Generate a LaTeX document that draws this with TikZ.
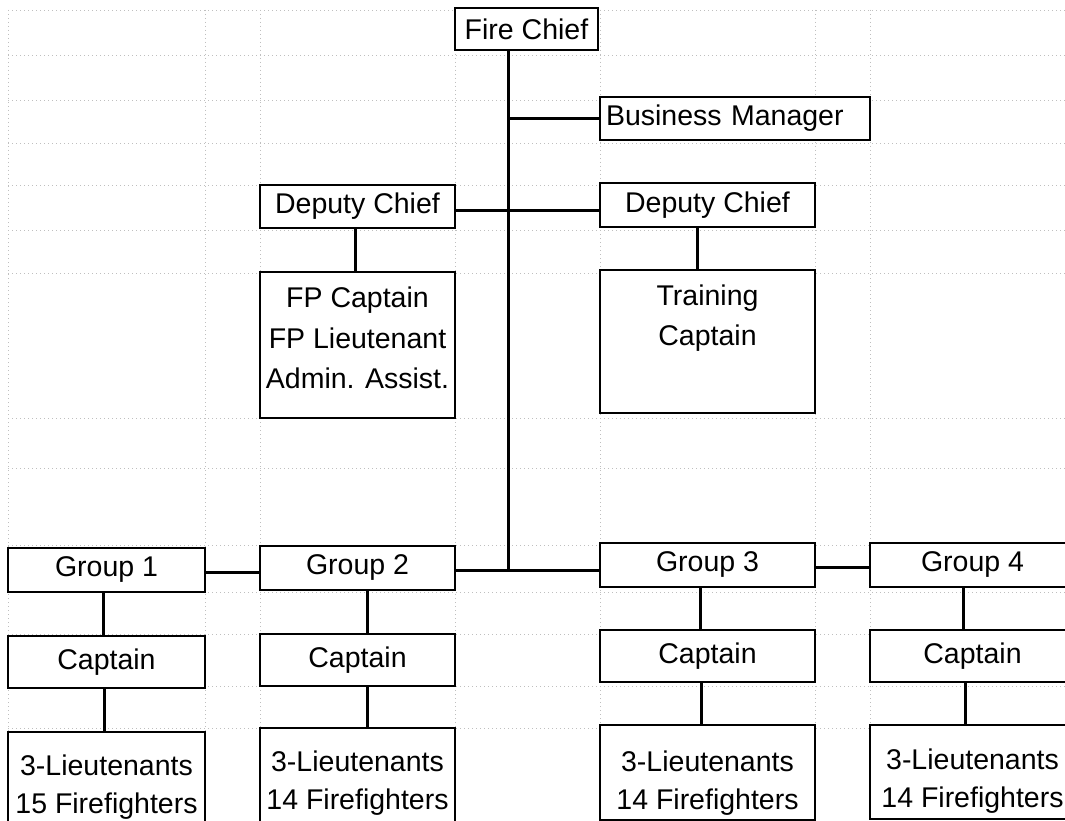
\documentclass[tikz,border=0pt]{standalone}
\usepackage{fontspec}
\setmainfont{Liberation Sans}
\begin{document}
\begin{tikzpicture}[x=1pt,y=-1pt,
  box/.style={draw=black,fill=white,line width=1.8pt,rectangle,inner sep=0pt,
    font=\fontsize{28.5}{38}\selectfont},
  txt/.style={inner sep=0pt,align=center,font=\fontsize{28.5}{38}\selectfont},
  link/.style={draw=black,line width=3pt},
  gridline/.style={draw=gray!50,line width=0.5pt,dash pattern=on 1pt off 3pt}]
\useasboundingbox (0,0) rectangle (1065,821);
\clip (0,0) rectangle (1065,821);
\fill[white] (0,0) rectangle (1065,821);
% spreadsheet grid
\foreach \gx in {8,205,260,455,600,815,870}
  \draw[gridline] (\gx,10) -- (\gx,821);
\foreach \gy in {10,55,100,143,185,230,273,418,468,545,592,634,686,728}
  \draw[gridline] (8,\gy) -- (1065,\gy);
% boxes
\node[box,minimum width=143,minimum height=42] (fire) at (526.5,29) {Fire Chief};
\node[box,minimum width=270,minimum height=43,text width=258,align=left] (biz) at (735,118.5) {Business Manager};
\node[box,minimum width=195,minimum height=43] (depL) at (357.5,206.5) {Deputy Chief};
\node[box,minimum width=215,minimum height=44] (depR) at (707.5,205) {Deputy Chief};
\node[box,minimum width=195,minimum height=146] (fp) at (357.5,345) {};
\node[txt,font=\fontsize{28.5}{40.5}\selectfont] (fpt) at (357.5,338) {FP Captain\\FP Lieutenant\\Admin. Assist.};
\node[box,minimum width=215,minimum height=143] (train) at (707.5,341.5) {};
\node[txt,font=\fontsize{28.5}{40.5}\selectfont] (traint) at (707.5,318) {Training\\Captain};
% groups
\node[box,minimum width=197,minimum height=44] (g1) at (106.5,570) {Group 1};
\node[box,minimum width=195,minimum height=44] (g2) at (357.5,568) {Group 2};
\node[box,minimum width=215,minimum height=44] (g3) at (707.5,565) {Group 3};
\node[box,minimum width=205,minimum height=44] (g4) at (972.5,565) {Group 4};
\node[box,minimum width=197,minimum height=52] (c1) at (106.5,662) {Captain};
\node[box,minimum width=195,minimum height=52] (c2) at (357.5,660) {Captain};
\node[box,minimum width=215,minimum height=52] (c3) at (707.5,656) {Captain};
\node[box,minimum width=205,minimum height=52] (c4) at (972.5,656) {Captain};
\node[box,minimum width=197,minimum height=110] (b1) at (106.5,787) {};
\node[box,minimum width=195,minimum height=110] (b2) at (357.5,783) {};
\node[box,minimum width=215,minimum height=95] (b3) at (707.5,772.5) {};
\node[box,minimum width=205,minimum height=94] (b4) at (972.5,772) {};
\node[txt] (b1t) at (106.5,787) {3-Lieutenants\\15 Firefighters};
\node[txt] (b2t) at (357.5,783) {3-Lieutenants\\14 Firefighters};
\node[txt] (b3t) at (707.5,783.5) {3-Lieutenants\\14 Firefighters};
\node[txt] (b4t) at (972.5,781) {3-Lieutenants\\14 Firefighters};
% connectors
\coordinate (spine) at (508,570);
\draw[link] (fire.south -| spine) -- (spine);
\draw[link] (spine |- biz.west) -- (biz.west);
\draw[link] ([yshift=-4pt]depL.east) -- ([yshift=-4pt]depL.east -| depR.west);
\draw[link] ([xshift=-2pt]depL.south) -- ([xshift=-2pt]fp.north);
\draw[link] ([xshift=-10pt]depR.south) -- ([xshift=-10pt]train.north);
\draw[link] ([yshift=-2pt]g1.east) -- ([yshift=-2pt]g1.east -| g2.west);
\draw[link] ([yshift=-2pt]g2.east) -- ([yshift=-2pt]g2.east -| g3.west);
\draw[link] ([yshift=-2pt]g3.east) -- ([yshift=-2pt]g3.east -| g4.west);
\draw[link] ([xshift=-3pt]g1.south) -- ([xshift=-3pt]c1.north);
\draw[link] ([xshift=-2pt]c1.south) -- ([xshift=-2pt]b1.north);
\draw[link] ([xshift=10pt]g2.south) -- ([xshift=10pt]c2.north);
\draw[link] ([xshift=10pt]c2.south) -- ([xshift=10pt]b2.north);
\draw[link] ([xshift=-7pt]g3.south) -- ([xshift=-7pt]c3.north);
\draw[link] ([xshift=-6pt]c3.south) -- ([xshift=-6pt]b3.north);
\draw[link] ([xshift=-9pt]g4.south) -- ([xshift=-9pt]c4.north);
\draw[link] ([xshift=-7pt]c4.south) -- ([xshift=-7pt]b4.north);
\end{tikzpicture}
\end{document}
